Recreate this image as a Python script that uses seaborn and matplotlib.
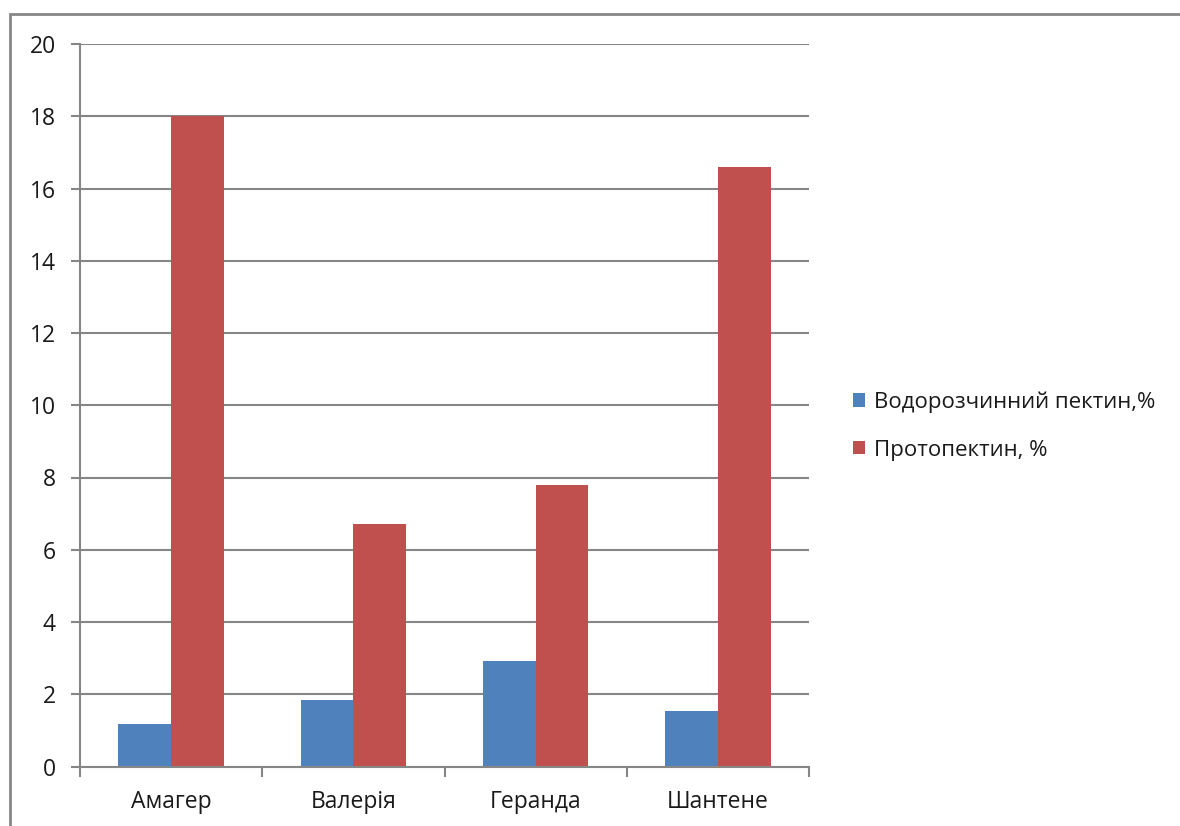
import matplotlib
matplotlib.use("Agg")
import matplotlib.pyplot as plt
from matplotlib.patches import Rectangle
import seaborn as sns
import pandas as pd

# Pectin content by variety
varieties = ["Амагер", "Валерія", "Геранда", "Шантене"]
soluble_pectin = [1.17, 1.83, 2.93, 1.54]
protopectin = [18.0, 6.7, 7.8, 16.6]
series_names = ["Водорозчинний пектин,%", "Протопектин, %"]
y_ticks = [0, 2, 4, 6, 8, 10, 12, 14, 16, 18, 20]

df = pd.DataFrame({
    "Сорт": varieties * 2,
    "Показник": [series_names[0]] * len(varieties) + [series_names[1]] * len(varieties),
    "Значення": soluble_pectin + protopectin,
})

sns.set_theme(style="white")
plt.rcParams["font.family"] = ["Open Sans", "DejaVu Sans"]

grid_grey = "#868686"
text_col = "#1a1a1a"
fs = 16.5
fig = plt.figure(figsize=(11.8, 8.26), dpi=100)
ax = fig.add_axes([80 / 1180, 1 - 766.5 / 826, (809 - 80) / 1180, (766.5 - 44) / 826])

sns.barplot(
    data=df, x="Сорт", y="Значення", hue="Показник",
    palette=["#4F81BD", "#C0504D"], saturation=1, width=0.58,
    order=varieties, hue_order=series_names, ax=ax, zorder=3,
    linewidth=0, legend=True,
)

ax.set_ylim(0, 20)
ax.set_xlim(-0.5, len(varieties) - 0.5)
ax.set_yticks(y_ticks)
ax.set_yticklabels([str(t) for t in y_ticks])
ax.set_xlabel("")
ax.set_ylabel("")

# Horizontal gridlines
ax.yaxis.grid(True, color=grid_grey, linewidth=1.5, zorder=0)
ax.set_axisbelow(True)

# Category labels at bar group centres, tick marks at boundaries
ax.set_xticks(range(len(varieties)))
ax.set_xticklabels(varieties)
ax.set_xticks([i - 0.5 for i in range(len(varieties) + 1)], minor=True)
ax.tick_params(axis="x", which="major", length=0, pad=17, labelsize=fs, colors=text_col)
ax.tick_params(axis="x", which="minor", length=7, width=1.5, color=grid_grey, direction="out", bottom=True)
ax.tick_params(axis="y", which="major", length=6.5, width=1.5, color=grid_grey, direction="out",
               left=True, pad=11, labelsize=fs, labelcolor=text_col)

for side in ["top", "right"]:
    ax.spines[side].set_visible(False)
for side in ["left", "bottom"]:
    ax.spines[side].set_color(grid_grey)
    ax.spines[side].set_linewidth(1.5)
    ax.spines[side].set_zorder(4)

leg = ax.legend(
    loc="center left", bbox_to_anchor=(833 / 1180, 1 - 426 / 826), bbox_transform=fig.transFigure,
    frameon=False, fontsize=16, handlelength=0.55, handleheight=0.55, handletextpad=0.4,
    labelspacing=1.2,
)
for t in leg.get_texts():
    t.set_color(text_col)

# Chart area border
fig.patches.append(Rectangle((10 / 1180, -0.2), 1.5, 1.2 - 14 / 826, transform=fig.transFigure,
                             fill=False, edgecolor=grid_grey, linewidth=2))

fig.savefig("out.png", dpi=100, facecolor="white")
